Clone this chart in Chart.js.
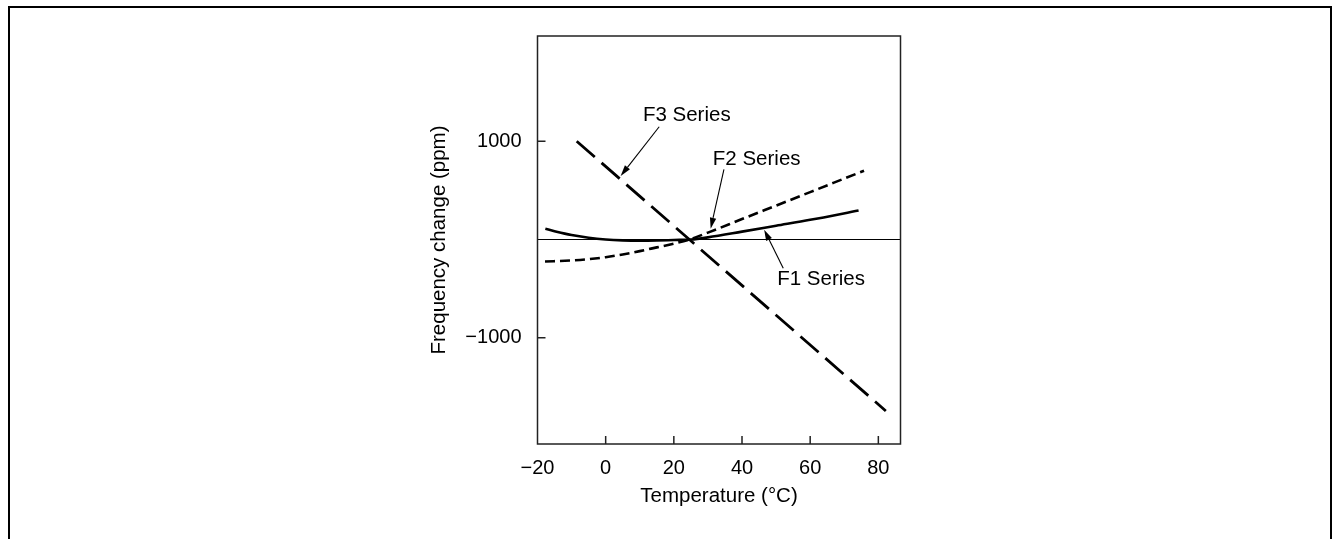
<!DOCTYPE html>
<html>
<head>
<meta charset="utf-8">
<script src="https://cdn.jsdelivr.net/npm/chart.js@4.4.1/dist/chart.umd.min.js"></script>
<style>
  html, body { margin: 0; padding: 0; background: #fff; }
  canvas { display: block; }
</style>
</head>
<body>
<canvas id="chart" width="1332" height="539"></canvas>
<script>
// temperature (°C) / frequency change (ppm)
const tempF1 = [-17.7, -15, -12, -10, -5, 0, 5, 10, 15, 20, 25, 30, 40, 50, 60, 74.2];
const ppmF1  = [109, 85, 60, 46, 18, 0, -9, -12, -10, -5, 0, 22, 80, 140, 200, 295];

const tempF2 = [-17.8, -10, -5, 0, 5, 10, 15, 20, 25, 30, 40, 50, 60, 70, 75.8];
const ppmF2  = [-224, -213, -200, -180, -152, -118, -80, -42, 5, 70, 208, 345, 482, 620, 700];

const tempF3 = [-8.5, 82.2];
const ppmF3  = [1000, -1744];

const xTickValues = [-20, 0, 20, 40, 60, 80];
const xTickLabels = ['\u221220', '0', '20', '40', '60', '80'];
const yTickValues = [-1000, 0, 1000];
const yTickLabels = ['\u22121000', '', '1000'];

const seriesLabels = ['F3 Series', 'F2 Series', 'F1 Series'];
// label centre and arrow tail/tip, in data units
const labelX = [23.8, 44.3, 63.2];
const labelY = [1259, 816, -405];
const arrowFromX = [15.7, 34.7, 52.1];
const arrowFromY = [1147, 714, -293];
const arrowToX = [4.4, 30.8, 46.5];
const arrowToY = [646, 110, 100];

const FONT = 'Arial, "Liberation Sans", Helvetica, sans-serif';

function pts(xs, ys) {
  return xs.map((x, i) => ({ x: x, y: ys[i] }));
}

const framePlugin = {
  id: 'frame',
  beforeDraw(chart) {
    const ctx = chart.ctx;
    ctx.save();
    ctx.strokeStyle = '#000';
    ctx.lineWidth = 2;
    ctx.beginPath();
    ctx.moveTo(9, 539);
    ctx.lineTo(9, 7);
    ctx.lineTo(1331, 7);
    ctx.lineTo(1331, 539);
    ctx.stroke();
    ctx.restore();
  },
  afterDraw(chart) {
    const ctx = chart.ctx;
    const a = chart.chartArea;
    const xs = chart.scales.x, ys = chart.scales.y;
    ctx.save();
    ctx.strokeStyle = '#222';
    ctx.lineWidth = 1.5;
    ctx.strokeRect(a.left, a.top, a.right - a.left, a.bottom - a.top);
    ctx.beginPath();
    xTickValues.forEach(v => {
      if (v === xs.min) return;
      const px = xs.getPixelForValue(v);
      ctx.moveTo(px, a.bottom);
      ctx.lineTo(px, a.bottom - 8);
    });
    yTickValues.forEach(v => {
      if (v === 0) return;
      const py = ys.getPixelForValue(v);
      ctx.moveTo(a.left, py);
      ctx.lineTo(a.left + 8, py);
    });
    ctx.stroke();

    // series labels with arrows
    ctx.fillStyle = '#000';
    ctx.strokeStyle = '#000';
    ctx.font = '20.5px ' + FONT;
    ctx.textAlign = 'center';
    ctx.textBaseline = 'middle';
    seriesLabels.forEach((t, i) => {
      ctx.fillText(t, xs.getPixelForValue(labelX[i]), ys.getPixelForValue(labelY[i]));
      const x0 = xs.getPixelForValue(arrowFromX[i]), y0 = ys.getPixelForValue(arrowFromY[i]);
      const x1 = xs.getPixelForValue(arrowToX[i]), y1 = ys.getPixelForValue(arrowToY[i]);
      const ang = Math.atan2(y1 - y0, x1 - x0);
      const len = 11, half = 3.2;
      const bx = x1 - len * Math.cos(ang), by = y1 - len * Math.sin(ang);
      ctx.lineWidth = 1.1;
      ctx.beginPath();
      ctx.moveTo(x0, y0);
      ctx.lineTo(bx, by);
      ctx.stroke();
      ctx.beginPath();
      ctx.moveTo(x1, y1);
      ctx.lineTo(bx + half * Math.sin(ang), by - half * Math.cos(ang));
      ctx.lineTo(bx - half * Math.sin(ang), by + half * Math.cos(ang));
      ctx.closePath();
      ctx.fill();
    });
    ctx.restore();
  }
};

new Chart(document.getElementById('chart'), {
  type: 'line',
  data: {
    datasets: [
      {
        label: 'F1 Series',
        data: pts(tempF1, ppmF1),
        borderColor: '#000',
        borderWidth: 2.6,
        cubicInterpolationMode: 'monotone',
        pointRadius: 0,
        fill: false
      },
      {
        label: 'F2 Series',
        data: pts(tempF2, ppmF2),
        borderColor: '#000',
        borderWidth: 2.6,
        borderDash: [10, 5],
        cubicInterpolationMode: 'monotone',
        pointRadius: 0,
        fill: false
      },
      {
        label: 'F3 Series',
        data: pts(tempF3, ppmF3),
        borderColor: '#000',
        borderWidth: 2.8,
        borderDash: [24, 9],
        pointRadius: 0,
        fill: false
      }
    ]
  },
  options: {
    responsive: false,
    animation: false,
    devicePixelRatio: 1,
    layout: { padding: { left: 427.5, right: 431.5, top: 36, bottom: 25 } },
    plugins: {
      legend: { display: false },
      tooltip: { enabled: false }
    },
    scales: {
      x: {
        type: 'linear',
        min: -20,
        max: 86.5,
        afterBuildTicks: s => { s.ticks = xTickValues.map(v => ({ value: v })); },
        afterFit: s => { s.height = 70; },
        grid: { display: false, drawTicks: false },
        border: { display: false },
        ticks: {
          autoSkip: false,
          maxRotation: 0,
          padding: 12,
          color: '#000',
          font: { family: FONT, size: 20 },
          callback: v => xTickLabels[xTickValues.indexOf(v)]
        },
        title: {
          display: true,
          text: 'Temperature (\u00b0C)',
          color: '#000',
          font: { family: FONT, size: 20.5 },
          padding: { top: 0, bottom: 5 }
        }
      },
      y: {
        type: 'linear',
        min: -2080,
        max: 2070,
        afterBuildTicks: s => { s.ticks = yTickValues.map(v => ({ value: v })); },
        afterFit: s => { s.width = 110; },
        grid: {
          drawTicks: false,
          lineWidth: 1,
          color: c => (c.tick && c.tick.value === 0 ? '#000' : 'rgba(0,0,0,0)')
        },
        border: { display: false },
        ticks: {
          autoSkip: false,
          padding: 16,
          color: '#000',
          font: { family: FONT, size: 20 },
          callback: v => yTickLabels[yTickValues.indexOf(v)]
        },
        title: {
          display: true,
          text: 'Frequency change (ppm)',
          color: '#000',
          font: { family: FONT, size: 20.5 },
          padding: { top: 0, bottom: 0 }
        }
      }
    }
  },
  plugins: [framePlugin]
});
</script>
</body>
</html>
